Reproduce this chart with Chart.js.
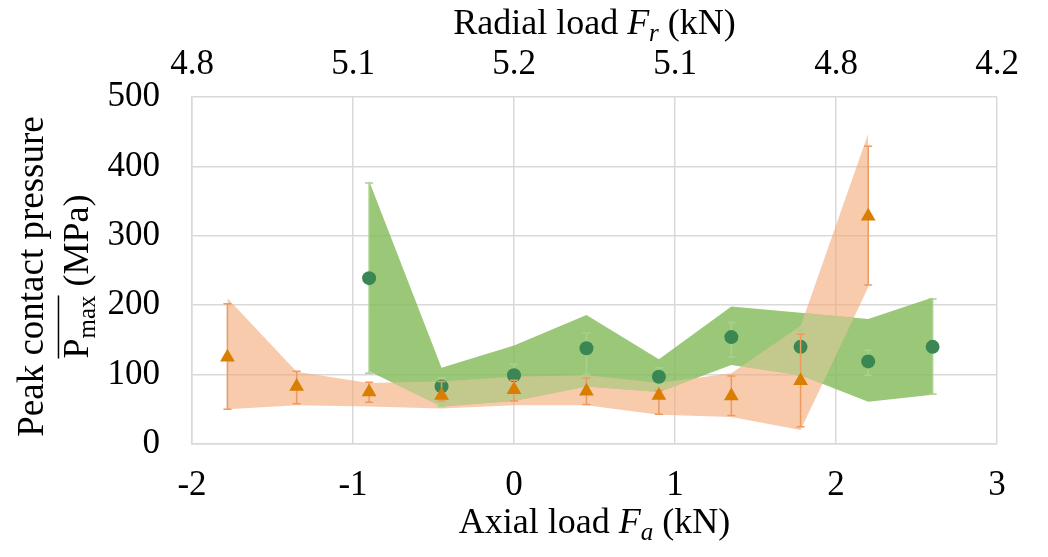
<!DOCTYPE html>
<html>
<head>
<meta charset="utf-8">
<script src="https://cdn.jsdelivr.net/npm/chart.js@4.4.0/dist/chart.umd.min.js"></script>
<style>
  html, body { margin: 0; padding: 0; background: #fff; }
  #wrap { width: 1048px; height: 557px; }
</style>
</head>
<body>
<div id="wrap"><canvas id="chart" width="1048" height="557"></canvas></div>
<script>
// axial load (kN) of each run, orange triangles
const orangeX = [-1.78, -1.35, -0.9, -0.45, 0, 0.45, 0.9, 1.35, 1.78, 2.2];
const orangeMean = [125, 83, 75, 70, 78, 76, 70, 69, 91, 328];
const orangeErrHi = [202, 105, 89, 90, 92, 95, 77, 98, 158, 429];
const orangeErrLo = [50, 58, 60, 62, 62, 57, 43, 41, 25, 229];
const orangeBandHi = [210, 104, 88, 90, 97, 99, 88, 102, 170, 447];
const orangeBandLo = [50, 56, 54, 51, 56, 56, 42, 39, 20, 226];

// green circles
const greenX = [-0.9, -0.45, 0, 0.45, 0.9, 1.35, 1.78, 2.2, 2.6];
const greenMean = [239, 83, 99, 138, 97, 154, 140, 119, 140];
const greenErrHi = [376, 95, 115, 160, 110, 175, 165, 135, 209];
const greenErrLo = [102, 54, 80, 100, 77, 125, 99, 99, 72];
const greenBandHi = [379, 110, 142, 186, 122, 198, 189, 180, 211];
const greenBandLo = [105, 54, 62, 83, 75, 114, 99, 61, 71];

// top axis labels, radial load at each axial tick -2..3
const radialLoad = ["4.8", "5.1", "5.2", "5.1", "4.8", "4.2"];

const FONT = '"Liberation Serif", "Times New Roman", serif';
const GRID = "#D9D9D9";

const toXY = (xs, ys) => xs.map((x, i) => ({ x: x, y: ys[i] }));

// vertical error bars, drawn just before the marker dataset
const errorBars = {
  id: "errorBars",
  beforeDatasetDraw(chart, args) {
    const ds = chart.data.datasets[args.index];
    if (!ds.errHi) return;
    const ctx = chart.ctx;
    const sx = chart.scales.x, sy = chart.scales.y;
    ctx.save();
    ctx.strokeStyle = ds.errColor;
    ctx.lineWidth = 1.5;
    ds.data.forEach((p, i) => {
      const px = sx.getPixelForValue(p.x);
      const top = sy.getPixelForValue(ds.errHi[i]);
      const bot = sy.getPixelForValue(ds.errLo[i]);
      ctx.beginPath();
      ctx.moveTo(px, top); ctx.lineTo(px, bot);
      ctx.moveTo(px - 4, top); ctx.lineTo(px + 4, top);
      ctx.moveTo(px - 4, bot); ctx.lineTo(px + 4, bot);
      ctx.stroke();
    });
    ctx.restore();
  }
};

// where the two bands overlap the reference shows an olive tint
function bandPath(ctx, hi, lo) {
  ctx.beginPath();
  hi.data.forEach((p, i) => (i ? ctx.lineTo(p.x, p.y) : ctx.moveTo(p.x, p.y)));
  for (let i = lo.data.length - 1; i >= 0; i--) ctx.lineTo(lo.data[i].x, lo.data[i].y);
  ctx.closePath();
}
const overlap = {
  id: "overlap",
  afterDatasetDraw(chart, args) {
    if (chart.data.datasets[args.index].band !== "orangeLo") return;
    const ctx = chart.ctx;
    ctx.save();
    bandPath(ctx, chart.getDatasetMeta(2), chart.getDatasetMeta(3));
    ctx.clip();
    bandPath(ctx, chart.getDatasetMeta(4), chart.getDatasetMeta(5));
    ctx.fillStyle = "rgba(193,203,144,0.85)";
    ctx.fill();
    ctx.restore();
  }
};

// text with italic / subscript / overline runs, centred on cx
function richText(ctx, runs, cx, base, size) {
  let total = 0;
  const parts = runs.map(r => {
    const s = r.sub ? Math.round(size * 0.7) : size;
    const font = (r.it ? "italic " : "") + s + "px " + FONT;
    ctx.font = font;
    const w = ctx.measureText(r.t).width;
    total += w;
    return { r: r, font: font, w: w };
  });
  let x = cx - total / 2;
  let overStart = null, overEnd = null;
  parts.forEach(p => {
    ctx.font = p.font;
    ctx.fillText(p.r.t, x, base + (p.r.sub ? size * 0.2 : 0));
    if (p.r.over) {
      if (overStart === null) overStart = x;
      overEnd = x + p.w;
    }
    x += p.w;
  });
  if (overStart !== null) {
    ctx.beginPath();
    ctx.lineWidth = 1.5;
    ctx.strokeStyle = "#000";
    ctx.moveTo(overStart, base - size * 0.82);
    ctx.lineTo(overEnd, base - size * 0.82);
    ctx.stroke();
  }
}

const axisTitles = {
  id: "axisTitles",
  afterDraw(chart) {
    const ctx = chart.ctx;
    const a = chart.chartArea;
    const mid = (a.left + a.right) / 2;
    ctx.save();
    ctx.fillStyle = "#000";
    ctx.textAlign = "left";
    ctx.textBaseline = "alphabetic";
    richText(ctx, [{ t: "Radial load " }, { t: "F", it: 1 }, { t: "r", it: 1, sub: 1 }, { t: " (kN)" }], mid, 34, 36);
    richText(ctx, [{ t: "Axial load " }, { t: "F", it: 1 }, { t: "a", it: 1, sub: 1 }, { t: " (kN)" }], mid, 533, 36);

    const cy = (a.top + a.bottom) / 2 + 6;
    ctx.save();
    ctx.translate(43, cy);
    ctx.rotate(-Math.PI / 2);
    richText(ctx, [{ t: "Peak contact pressure" }], 0, 0, 37);
    ctx.restore();
    ctx.save();
    ctx.translate(88, cy);
    ctx.rotate(-Math.PI / 2);
    richText(ctx, [{ t: "P", over: 1 }, { t: "max", sub: 1, over: 1 }, { t: " (MPa)" }], 0, 0, 36);
    ctx.restore();
    ctx.restore();
  }
};

const bandLine = { borderWidth: 0, pointRadius: 0, tension: 0 };

new Chart(document.getElementById("chart").getContext("2d"), {
  type: "line",
  data: {
    datasets: [
      { data: toXY(orangeX, orangeMean), showLine: false, pointStyle: "triangle",
        pointRadius: 8.5, pointBackgroundColor: "#D97E00", pointBorderColor: "#D97E00", pointBorderWidth: 0,
        errHi: orangeErrHi, errLo: orangeErrLo, errColor: "#EE9A5E", order: 0 },
      { data: toXY(greenX, greenMean), showLine: false, pointStyle: "circle",
        pointRadius: 7, pointBackgroundColor: "#3B8754", pointBorderColor: "#3B8754", pointBorderWidth: 0,
        errHi: greenErrHi, errLo: greenErrLo, errColor: "#A9D18E", order: 1 },
      Object.assign({ data: toXY(orangeX, orangeBandHi), fill: false, band: "orangeHi", order: 3 }, bandLine),
      Object.assign({ data: toXY(orangeX, orangeBandLo), fill: "-1", band: "orangeLo",
        backgroundColor: "rgba(243,168,118,0.6)", order: 2 }, bandLine),
      Object.assign({ data: toXY(greenX, greenBandHi), fill: false, band: "greenHi", order: 5 }, bandLine),
      Object.assign({ data: toXY(greenX, greenBandLo), fill: "-1", band: "greenLo",
        backgroundColor: "rgba(130,186,86,0.8)", order: 4 }, bandLine)
    ]
  },
  options: {
    responsive: false,
    animation: false,
    layout: { padding: { left: 0, right: 51, top: 0, bottom: 0 } },
    plugins: { legend: { display: false }, tooltip: { enabled: false } },
    scales: {
      x: {
        type: "linear", position: "bottom", min: -2, max: 3,
        ticks: { stepSize: 1, color: "#000", padding: 21, font: { family: FONT, size: 35 } },
        grid: { color: GRID, lineWidth: 1.5, drawTicks: false },
        border: { color: GRID, width: 1.5 },
        afterFit(s) { s.height = 113; }
      },
      x2: {
        type: "linear", position: "top", min: -2, max: 3,
        ticks: { stepSize: 1, color: "#000", padding: 11, font: { family: FONT, size: 35 },
          callback: v => radialLoad[v + 2] },
        grid: { display: false, drawTicks: false },
        border: { display: false },
        afterFit(s) { s.height = 97; }
      },
      y: {
        min: 0, max: 500,
        ticks: { stepSize: 100, color: "#000", padding: 32, font: { family: FONT, size: 35 } },
        grid: { color: GRID, lineWidth: 1.5, drawTicks: false },
        border: { color: GRID, width: 1.5 },
        afterFit(s) { s.width = 192; }
      }
    }
  },
  plugins: [errorBars, overlap, axisTitles]
});
</script>
</body>
</html>
